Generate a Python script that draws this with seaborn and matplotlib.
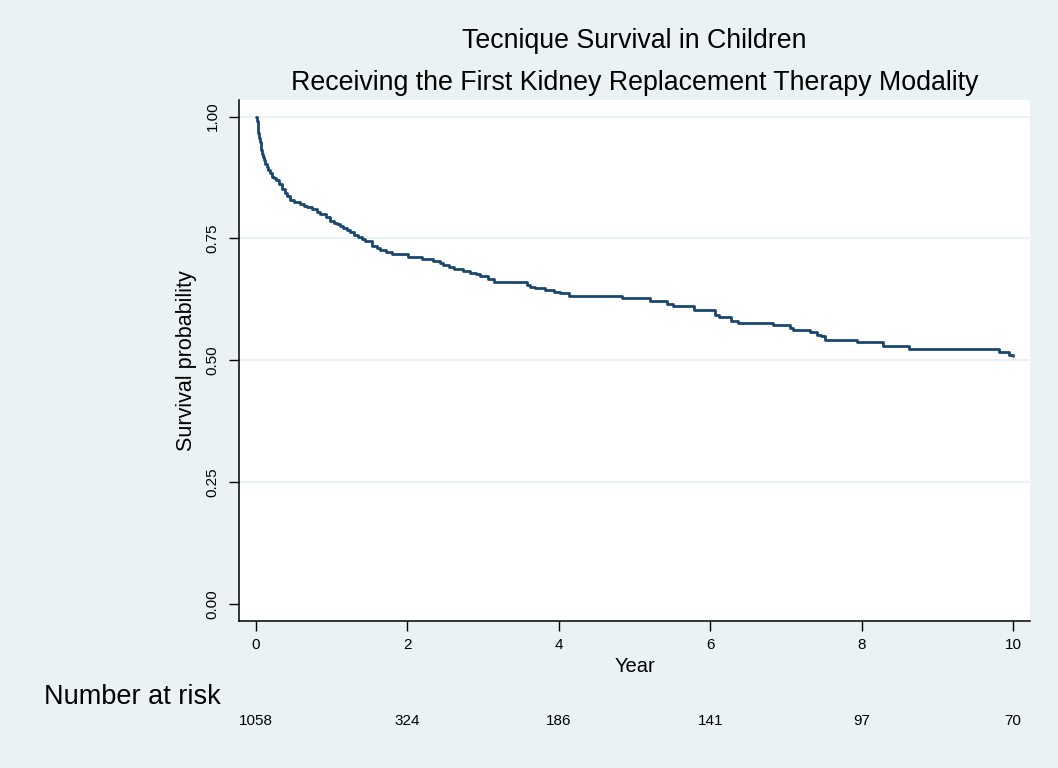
import numpy as np
import pandas as pd
import matplotlib
matplotlib.use("Agg")
import matplotlib.pyplot as plt
import matplotlib.transforms as mtransforms
import seaborn as sns

# ---- data ----
time_years = [0, 0.01, 0.02, 0.03, 0.04, 0.05, 0.06, 0.07, 0.08, 0.09, 0.10, 0.12,
              0.14, 0.16, 0.18, 0.21, 0.24, 0.27, 0.30, 0.34, 0.38,
              0.41, 0.45, 0.50, 0.58, 0.63, 0.67, 0.74, 0.80, 0.85, 0.92, 0.98,
              1.03, 1.07, 1.11, 1.15, 1.20, 1.24, 1.30, 1.35, 1.40, 1.44, 1.53,
              1.60, 1.64, 1.72, 1.79, 2.01, 2.19, 2.34, 2.43, 2.47, 2.55, 2.61,
              2.74, 2.83, 2.90, 2.96, 3.07, 3.14, 3.58, 3.62, 3.69, 3.82, 3.93,
              4.02, 4.13, 4.83, 5.21, 5.43, 5.51, 5.78, 6.07, 6.12, 6.28, 6.37,
              6.83, 7.05, 7.10, 7.32, 7.41, 7.47, 7.52, 7.94, 8.28, 8.63, 9.82,
              9.95, 10.0]
survival = [1.000, 0.990, 0.978, 0.967, 0.957, 0.948, 0.940, 0.932, 0.924, 0.917,
            0.911, 0.903, 0.896, 0.890, 0.884, 0.877, 0.873, 0.870, 0.862,
            0.851, 0.843, 0.836, 0.829, 0.825, 0.820, 0.817, 0.814, 0.810, 0.805,
            0.800, 0.793, 0.786, 0.782, 0.779, 0.776, 0.772, 0.768, 0.764, 0.758,
            0.752, 0.748, 0.744, 0.735, 0.731, 0.727, 0.722, 0.717, 0.711, 0.707,
            0.703, 0.700, 0.695, 0.691, 0.688, 0.683, 0.680, 0.676, 0.673, 0.667,
            0.661, 0.655, 0.651, 0.648, 0.644, 0.640, 0.637, 0.631, 0.627, 0.622,
            0.615, 0.611, 0.604, 0.593, 0.589, 0.580, 0.577, 0.572, 0.566, 0.562,
            0.557, 0.552, 0.549, 0.542, 0.537, 0.530, 0.524, 0.517, 0.510, 0.508]

x_ticks = [0, 2, 4, 6, 8, 10]
y_ticks = [0.00, 0.25, 0.50, 0.75, 1.00]
y_tick_labels = ["0.00", "0.25", "0.50", "0.75", "1.00"]
at_risk = [1058, 324, 186, 141, 97, 70]

title_line1 = "Tecnique Survival in Children"
title_line2 = "Receiving the First Kidney Replacement Therapy Modality"

# ---- style ----
BG = "#EAF2F3"
NAVY = "#1A476F"
sns.set_theme(style="white")
plt.rcParams["font.family"] = ["Liberation Sans", "DejaVu Sans"]

W, H = 1058, 768
fig = plt.figure(figsize=(W / 100, H / 100), dpi=100, facecolor=BG)
left, right, top, bottom = 239, 1030, 100, 621
ax = fig.add_axes([left / W, 1 - bottom / H, (right - left) / W, (bottom - top) / H])
ax.set_facecolor("white")

df = pd.DataFrame({"Year": time_years, "Survival": survival})
sns.lineplot(data=df, x="Year", y="Survival", drawstyle="steps-post",
             estimator=None, sort=False, color=NAVY, linewidth=2.0, ax=ax)

ax.set_xlim(-0.225, 10.225)
ax.set_ylim(-0.035, 1.034)

for yv in y_ticks[1:]:
    ax.axhline(yv, color=BG, linewidth=1.6, zorder=0)

ax.set_xticks(x_ticks)
ax.set_xticklabels([str(v) for v in x_ticks])
ax.set_yticks(y_ticks)
ax.set_yticklabels(y_tick_labels, rotation=90, va="center")
ax.tick_params(axis="both", which="major", direction="out", length=7.5, width=1.0,
               color="black", labelsize=11, labelcolor="black", left=True, bottom=True)
ax.tick_params(axis="x", pad=4.5)
ax.tick_params(axis="y", pad=6.5)

for s in ["top", "right"]:
    ax.spines[s].set_visible(False)
for s in ["left", "bottom"]:
    ax.spines[s].set_color("black")
    ax.spines[s].set_linewidth(1.1)

ax.set_xlabel("Year", fontsize=14.5, color="black", labelpad=4)
ax.set_ylabel("Survival probability", fontsize=15.5, color="black", labelpad=6)

fig.text((left + right) / 2 / W, 1 - 48 / H, title_line1, ha="center", va="baseline",
         fontsize=19.3, color="black")
fig.text((left + right) / 2 / W, 1 - 90 / H, title_line2, ha="center", va="baseline",
         fontsize=19.3, color="black")

fig.text(44 / W, 1 - 704 / H, "Number at risk", ha="left", va="baseline",
         fontsize=19.5, color="black")
trans = mtransforms.blended_transform_factory(ax.transData, fig.transFigure)
for xv, n in zip(x_ticks, at_risk):
    ax.text(xv, 1 - 725 / H, str(n), transform=trans, ha="center", va="baseline",
            fontsize=11, color="black")

fig.savefig("out.png", dpi=100, facecolor=BG)
